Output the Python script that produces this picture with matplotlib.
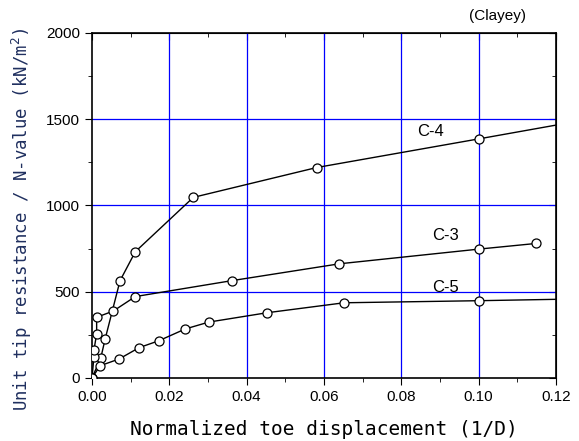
import matplotlib.pyplot as plt
from matplotlib.ticker import MultipleLocator

# normalized toe displacement (1/D) and unit tip resistance / N-value
c4_x = [0.0, 0.00225, 0.0034, 0.00725, 0.0112, 0.0262, 0.0581, 0.100, 0.120]
c4_y = [0, 114, 226, 564, 732, 1047, 1220, 1386, 1466]
c3_x = [0.0, 0.0005, 0.0005, 0.0012, 0.0012, 0.0055, 0.0112, 0.0361, 0.0640, 0.100, 0.1149]
c3_y = [0, 123, 162, 255, 352, 388, 472, 564, 662, 747, 780]
c5_x = [0.0, 0.0021, 0.0070, 0.0122, 0.0173, 0.0241, 0.0302, 0.0452, 0.0652, 0.100, 0.120]
c5_y = [0, 71, 110, 176, 216, 284, 324, 378, 436, 448, 456]

labels = ["C-4", "C-3", "C-5"]
label_pos = [(0.0875, 1431), (0.0913, 828), (0.0915, 527)]

xticks = [0.0, 0.02, 0.04, 0.06, 0.08, 0.10, 0.12]
yticks = [0, 500, 1000, 1500, 2000]

fig = plt.figure(figsize=(5.79, 4.41), dpi=100)
ax = fig.add_axes([0.1589, 0.1429, 0.8014, 0.7823])

for gx in xticks[1:-1]:
    ax.axvline(gx, color='#0000ff', lw=0.9, zorder=1)
for gy in yticks[1:-1]:
    ax.axhline(gy, color='#0000ff', lw=0.9, zorder=1)

mk = dict(color='k', lw=1.0, marker='o', ms=6.5, mfc='white', mec='k', mew=0.9, zorder=3)
ax.plot(c4_x, c4_y, markevery=list(range(len(c4_x) - 1)), **mk)
ax.plot(c3_x, c3_y, **mk)
ax.plot(c5_x, c5_y, markevery=list(range(len(c5_x) - 1)), **mk)

for lab, (lx, ly) in zip(labels, label_pos):
    ax.text(lx, ly, lab, fontsize=12, ha='center', va='center', family='Liberation Sans')

ax.set_xlim(0, 0.12)
ax.set_ylim(0, 2000)
ax.set_xticks(xticks)
ax.set_xticklabels(["%.2f" % v for v in xticks])
ax.set_yticks(yticks)
ax.xaxis.set_minor_locator(MultipleLocator(0.01))
ax.yaxis.set_minor_locator(MultipleLocator(250))
ax.tick_params(which='both', direction='out', top=False, right=False, labelsize=11)
ax.tick_params(which='major', length=5)
ax.tick_params(which='minor', length=3)
for lbl in ax.get_xticklabels() + ax.get_yticklabels():
    lbl.set_family('Liberation Sans')

# inward ticks on top and right
sec = ax.secondary_xaxis('top')
sec.set_xticks(xticks)
sec.xaxis.set_minor_locator(MultipleLocator(0.01))
sec.tick_params(which='both', direction='in', labeltop=False)
sec.tick_params(which='major', length=5)
sec.tick_params(which='minor', length=3)
sec2 = ax.secondary_yaxis('right')
sec2.set_yticks(yticks)
sec2.yaxis.set_minor_locator(MultipleLocator(250))
sec2.tick_params(which='both', direction='in', labelright=False)
sec2.tick_params(which='major', length=5)
sec2.tick_params(which='minor', length=3)

for s in ax.spines.values():
    s.set_linewidth(1.2)

ax.set_xlabel("Normalized toe displacement (1/D)", family='DejaVu Sans Mono',
              fontsize=14, labelpad=12)
ax.set_ylabel("Unit tip resistance / N-value (kN/m$^2$)", family='DejaVu Sans Mono',
              fontsize=12.5, color='#1f2f5f')
ax.yaxis.set_label_coords(-0.125, 0.46)
ax.text(0.1048, 2055, "(Clayey)", fontsize=11, ha='center', va='bottom',
        family='Liberation Sans')

fig.savefig("out.png", dpi=100)
